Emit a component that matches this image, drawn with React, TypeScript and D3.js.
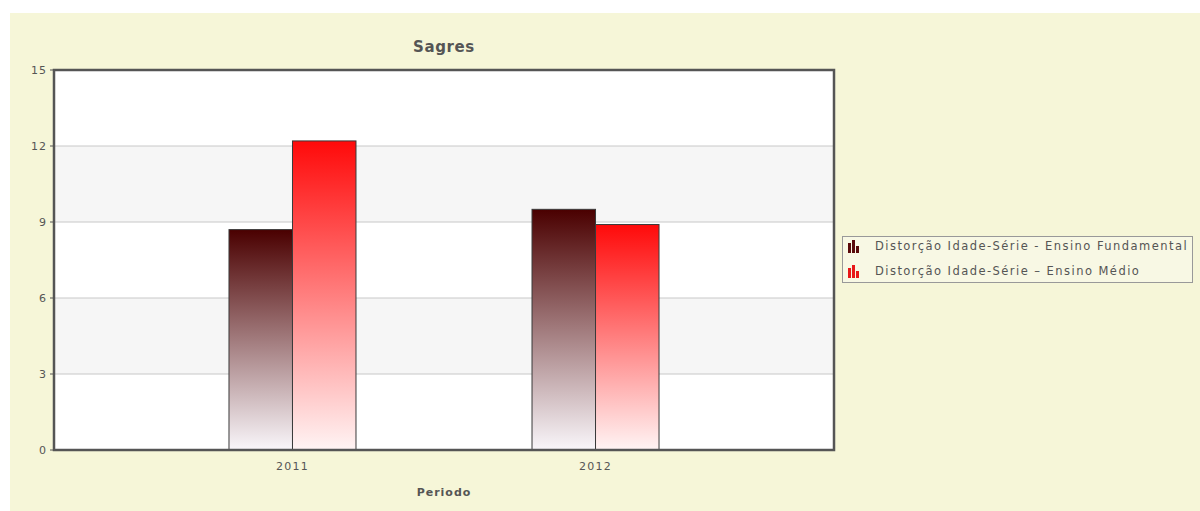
import React from "react";
import * as d3 from "d3";

const categories = ["2011", "2012"];
const seriesNames = [
  "Distorção Idade-Série - Ensino Fundamental",
  "Distorção Idade-Série – Ensino Médio",
];
const fundamental = [8.7, 9.5];
const medio = [12.2, 8.9];
const yTicks = [0, 3, 6, 9, 12, 15];

const W = 1200;
const H = 511;
const margin = { left: 54, top: 70, right: 834, bottom: 450 };
const font = "'DejaVu Sans', Verdana, sans-serif";

export default function App() {
  const y = d3.scaleLinear().domain([0, 15]).range([margin.bottom, margin.top]);
  const x = d3
    .scalePoint<string>()
    .domain(categories)
    .range([margin.left, margin.right])
    .padding(0.787);
  const barW = 63.5;
  const series = [
    { name: seriesNames[0], values: fundamental, grad: "gFund", top: "#4a0000", bottom: "#f9f6fa", icon: "#5a0a0a" },
    { name: seriesNames[1], values: medio, grad: "gMed", top: "#ff0a0a", bottom: "#fff4f4", icon: "#e81818" },
  ];
  const bands = d3.range(0, yTicks.length - 1);

  return (
    <svg width={W} height={H} style={{ position: "absolute", left: 0, top: 0 }}>
      <defs>
        {series.map((s) => (
          <linearGradient key={s.grad} id={s.grad} x1="0" y1="0" x2="0" y2="1">
            <stop offset="0%" stopColor={s.top} />
            <stop offset="100%" stopColor={s.bottom} />
          </linearGradient>
        ))}
      </defs>
      <rect x={10} y={13} width={W - 10} height={H - 13} fill="#f6f6d8" />
      {/* plot background with alternating bands */}
      <rect
        x={margin.left}
        y={margin.top}
        width={margin.right - margin.left}
        height={margin.bottom - margin.top}
        fill="#ffffff"
      />
      {bands.map((i) =>
        i % 2 === 1 ? (
          <rect
            key={"b" + i}
            x={margin.left}
            y={y(yTicks[i + 1])}
            width={margin.right - margin.left}
            height={y(yTicks[i]) - y(yTicks[i + 1])}
            fill="#f6f6f6"
          />
        ) : null
      )}
      {yTicks.slice(1, -1).map((t) => (
        <line
          key={"g" + t}
          x1={margin.left}
          x2={margin.right}
          y1={y(t)}
          y2={y(t)}
          stroke="#c8c8c8"
          strokeWidth={1}
        />
      ))}
      {/* bars */}
      {categories.map((c, ci) =>
        series.map((s, si) => {
          const cx = x(c) as number;
          const bx = cx - barW + si * barW;
          return (
            <rect
              key={c + si}
              x={bx}
              y={y(s.values[ci])}
              width={barW}
              height={y(0) - y(s.values[ci])}
              fill={`url(#${s.grad})`}
              stroke="#3a3a3a"
              strokeWidth={1}
            />
          );
        })
      )}
      {/* frame */}
      <rect
        x={margin.left}
        y={margin.top}
        width={margin.right - margin.left}
        height={margin.bottom - margin.top}
        fill="none"
        stroke="#555"
        strokeWidth={2.5}
      />
      {yTicks.map((t) => (
        <g key={"t" + t}>
          <line x1={margin.left - 4} x2={margin.left} y1={y(t)} y2={y(t)} stroke="#555" strokeWidth={1} />
          <text
            x={margin.left - 7}
            y={y(t) + 4}
            textAnchor="end"
            fontFamily={font}
            fontSize={11}
            letterSpacing={1}
            fill="#555"
          >
            {t}
          </text>
        </g>
      ))}
      {categories.map((c) => (
        <text
          key={"x" + c}
          x={x(c) as number}
          y={470}
          textAnchor="middle"
          fontFamily={font}
          fontSize={11}
          letterSpacing={1.3}
          fill="#555"
        >
          {c}
        </text>
      ))}
      <text
        x={(margin.left + margin.right) / 2}
        y={52}
        textAnchor="middle"
        fontFamily={font}
        fontSize={15}
        fontWeight="bold"
        letterSpacing={0.6}
        fill="#555"
      >
        Sagres
      </text>
      <text
        x={(margin.left + margin.right) / 2}
        y={496}
        textAnchor="middle"
        fontFamily={font}
        fontSize={11}
        fontWeight="bold"
        letterSpacing={1}
        fill="#555"
      >
        Periodo
      </text>
      {/* legend */}
      <rect x={842.5} y={236.5} width={350} height={46} fill="#f8f8e4" stroke="#999" strokeWidth={1} />
      {series.map((s, i) => {
        const ly = 250 + i * 25;
        return (
          <g key={"l" + i}>
            <rect x={848} y={ly - 7} width={3} height={10} fill={s.icon} />
            <rect x={852} y={ly - 10} width={3} height={13} fill={s.icon} />
            <rect x={856} y={ly - 4} width={3} height={7} fill={s.icon} />
            <text x={875} y={ly} fontFamily={font} fontSize={11.5} fill="#555" letterSpacing={1.45}>
              {s.name}
            </text>
          </g>
        );
      })}
    </svg>
  );
}
